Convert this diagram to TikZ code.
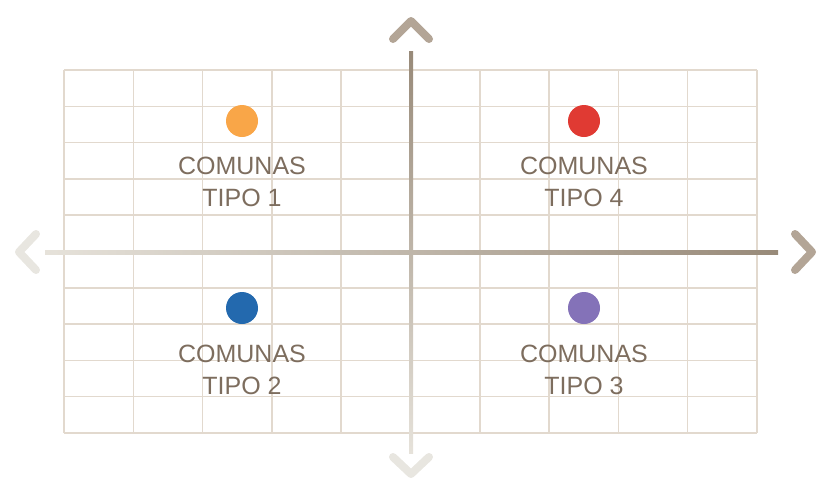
\documentclass[tikz,border=0pt]{standalone}
\usepackage{fontspec}
\setmainfont{Liberation Sans}
\definecolor{gridc}{HTML}{E2D9CE}
\definecolor{txtc}{HTML}{7D6D5E}
\definecolor{darkax}{HTML}{988A79}
\definecolor{lightax}{HTML}{E6E2DA}
\definecolor{chevdark}{HTML}{B3A596}
\definecolor{chevlight}{HTML}{E8E6E0}
\definecolor{dorange}{HTML}{F9A648}
\definecolor{dred}{HTML}{E03A33}
\definecolor{dblue}{HTML}{2369AE}
\definecolor{dpurple}{HTML}{8472B8}
\tikzset{
  gridline/.style={draw=gridc, line width=1.5pt},
  chevron/.style={line width=8pt, line cap=round, line join=round},
  dot/.style={circle, inner sep=0pt, minimum size=32pt},
  lbl/.style={text=txtc, font=\fontsize{25}{32}\selectfont, align=center, inner sep=0pt}
}
\begin{document}
\begin{tikzpicture}[x=1pt,y=-1pt]
\useasboundingbox (0,0) rectangle (817,480);
% grid
\foreach \i in {0,...,10} {
  \draw[gridline] ({64+\i*69.3},70) -- ({64+\i*69.3},433);
  \draw[gridline] (64,{70+\i*36.3}) -- (757,{70+\i*36.3});
}
% axes
\shade[left color=lightax, right color=darkax] (45,250) rectangle (778,254);
\shade[top color=darkax, bottom color=lightax] (409,51) rectangle (413,453);
% chevrons
\draw[chevron, chevdark] (393,39) -- (411,21) -- (429,39);
\draw[chevron, chevdark] (795,234) -- (812,252) -- (795,270);
\draw[chevron, chevlight] (36,234) -- (19,252) -- (36,270);
\draw[chevron, chevlight] (393,457) -- (411,474) -- (429,457);
% dots
\node[dot, fill=dorange] (d1) at (242,121) {};
\node[dot, fill=dred] (d4) at (584,121) {};
\node[dot, fill=dblue] (d2) at (242,308) {};
\node[dot, fill=dpurple] (d3) at (584,308) {};
% labels
\node[lbl] (l1) at (242,182) {COMUNAS\\TIPO 1};
\node[lbl] (l4) at (584,182) {COMUNAS\\TIPO 4};
\node[lbl] (l2) at (242,370) {COMUNAS\\TIPO 2};
\node[lbl] (l3) at (584,370) {COMUNAS\\TIPO 3};
\end{tikzpicture}
\end{document}
